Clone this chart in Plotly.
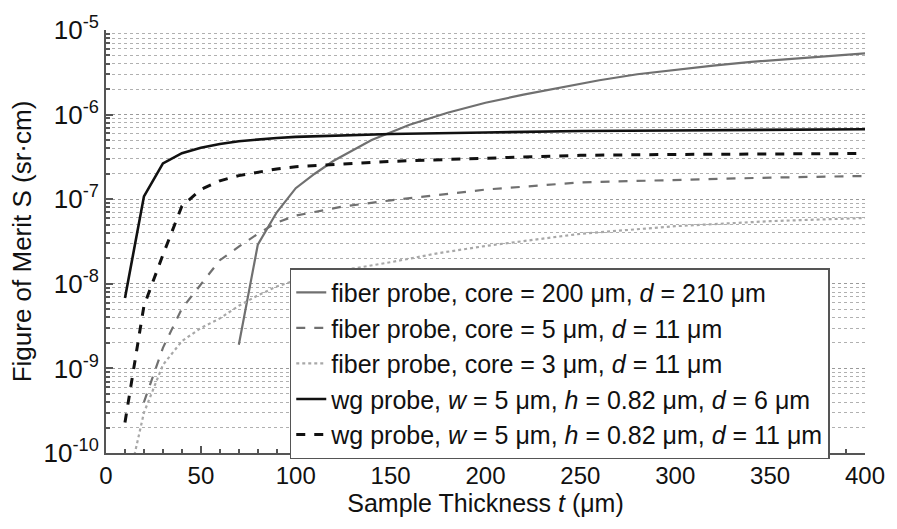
import plotly.graph_objects as go

# ---- data ----
x_fiber200 = [70, 80, 90, 100, 110, 120, 140, 160, 180, 200, 220, 240, 260, 280, 300, 320, 340, 360, 380, 400]
y_fiber200 = [1.9e-9, 2.9e-8, 7.0e-8, 1.35e-7, 2.0e-7, 2.85e-7, 5.0e-7, 7.6e-7, 1.05e-6, 1.38e-6,
              1.72e-6, 2.1e-6, 2.55e-6, 3.0e-6, 3.4e-6, 3.8e-6, 4.2e-6, 4.55e-6, 4.95e-6, 5.3e-6]

x_core5 = [20, 30, 40, 50, 60, 70, 80, 90, 100, 125, 150, 175, 200, 250, 300, 350, 400]
y_core5 = [4.0e-10, 1.75e-9, 5.1e-9, 9.8e-9, 1.9e-8, 2.75e-8, 3.9e-8, 5.3e-8, 6.4e-8, 8.2e-8,
           9.7e-8, 1.12e-7, 1.3e-7, 1.58e-7, 1.7e-7, 1.8e-7, 1.88e-7]

x_core3 = [15, 20, 30, 40, 50, 60, 70, 80, 90, 100, 125, 150, 175, 200, 250, 300, 350, 400]
y_core3 = [9.5e-11, 3.0e-10, 1.1e-9, 2.1e-9, 3.0e-9, 3.9e-9, 5.5e-9, 7.3e-9, 9.3e-9, 1.1e-8,
           1.45e-8, 1.8e-8, 2.3e-8, 2.8e-8, 3.9e-8, 4.8e-8, 5.5e-8, 6.0e-8]

x_wg6 = [10, 20, 30, 40, 50, 60, 70, 80, 90, 100, 150, 200, 250, 300, 350, 400]
y_wg6 = [6.8e-9, 1.08e-7, 2.65e-7, 3.5e-7, 4.05e-7, 4.5e-7, 4.85e-7, 5.1e-7, 5.3e-7, 5.45e-7,
         5.9e-7, 6.15e-7, 6.4e-7, 6.5e-7, 6.6e-7, 6.7e-7]

x_wg11 = [10, 20, 30, 40, 50, 60, 70, 80, 90, 100, 150, 200, 250, 300, 350, 400]
y_wg11 = [2.3e-10, 5.5e-9, 2.2e-8, 8.3e-8, 1.3e-7, 1.65e-7, 1.9e-7, 2.1e-7, 2.28e-7, 2.42e-7,
          2.8e-7, 3.05e-7, 3.3e-7, 3.38e-7, 3.43e-7, 3.47e-7]

names = [
    "fiber probe, core = 200 μm, <i>d</i> = 210 μm",
    "fiber probe, core = 5 μm, <i>d</i> = 11 μm",
    "fiber probe, core = 3 μm, <i>d</i> = 11 μm",
    "wg probe, <i>w</i> = 5 μm, <i>h</i> = 0.82 μm, <i>d</i> = 6 μm",
    "wg probe, <i>w</i> = 5 μm, <i>h</i> = 0.82 μm, <i>d</i> = 11 μm",
]

y_major = [1e-10, 1e-9, 1e-8, 1e-7, 1e-6, 1e-5]
y_major_text = ["10<sup>-10</sup>", "10<sup>-9</sup>", "10<sup>-8</sup>", "10<sup>-7</sup>",
                "10<sup>-6</sup>", "10<sup>-5</sup>"]
y_minor = [k * d for d in [1e-10, 1e-9, 1e-8, 1e-7, 1e-6] for k in range(2, 10)]

x_ticks = [0, 50, 100, 150, 200, 250, 300, 350, 400]

FONT = "Arial, 'Liberation Sans', sans-serif"

fig = go.Figure()
styles = [
    dict(color="#707070", width=2.2, dash="solid"),
    dict(color="#707070", width=2.2, dash="dash"),
    dict(color="#a8a8a8", width=2.2, dash="dot"),
    dict(color="#111111", width=2.6, dash="solid"),
    dict(color="#111111", width=3.0, dash="dash"),
]
series = [(x_fiber200, y_fiber200), (x_core5, y_core5), (x_core3, y_core3),
          (x_wg6, y_wg6), (x_wg11, y_wg11)]
for (xs, ys), nm, st in zip(series, names, styles):
    fig.add_trace(go.Scatter(x=xs, y=ys, mode="lines", name=nm, line=st))

fig.update_layout(
    width=897, height=529,
    margin=dict(l=106, r=31, t=25, b=76),
    plot_bgcolor="white", paper_bgcolor="white",
    font=dict(family=FONT, color="#111111"),
    showlegend=True,
    legend=dict(
        x=(290 - 106) / 760, y=(453 - 266) / 428, xanchor="left", yanchor="top",
        bgcolor="white", bordercolor="#555555", borderwidth=1.5,
        font=dict(size=25, family=FONT, color="#111111"),
        itemwidth=30, tracegroupgap=0,
    ),
    xaxis=dict(
        range=[0, 400], tickvals=x_ticks, ticks="inside", ticklen=7, tickwidth=1.5,
        tickcolor="#555555", showline=True, linecolor="#555555", linewidth=2,
        showgrid=False, zeroline=False,
        tickfont=dict(size=24, family=FONT, color="#111111"),
        minor=dict(dtick=10, ticks="inside", ticklen=4, tickcolor="#555555", showgrid=False),
        title=dict(text="Sample Thickness <i>t</i> (μm)", font=dict(size=25, family=FONT), standoff=6),
    ),
    yaxis=dict(
        type="log", range=[-10, -5], tickmode="array", tickvals=y_major, ticktext=y_major_text,
        ticks="inside", ticklen=7, tickwidth=1.5, tickcolor="#555555",
        showline=True, linecolor="#555555", linewidth=2,
        showgrid=True, gridcolor="#9a9a9a", griddash="dot", gridwidth=1,
        zeroline=False,
        tickfont=dict(size=26, family=FONT, color="#111111"),
        minor=dict(tickmode="array", tickvals=y_minor, ticks="inside", ticklen=4,
                   tickcolor="#555555", showgrid=True, gridcolor="#b0b0b0", griddash="dot", gridwidth=1),
        title=dict(text="Figure of Merit S (sr·cm)", font=dict(size=26, family=FONT), standoff=4),
    ),
)

fig.write_html("out.html")
